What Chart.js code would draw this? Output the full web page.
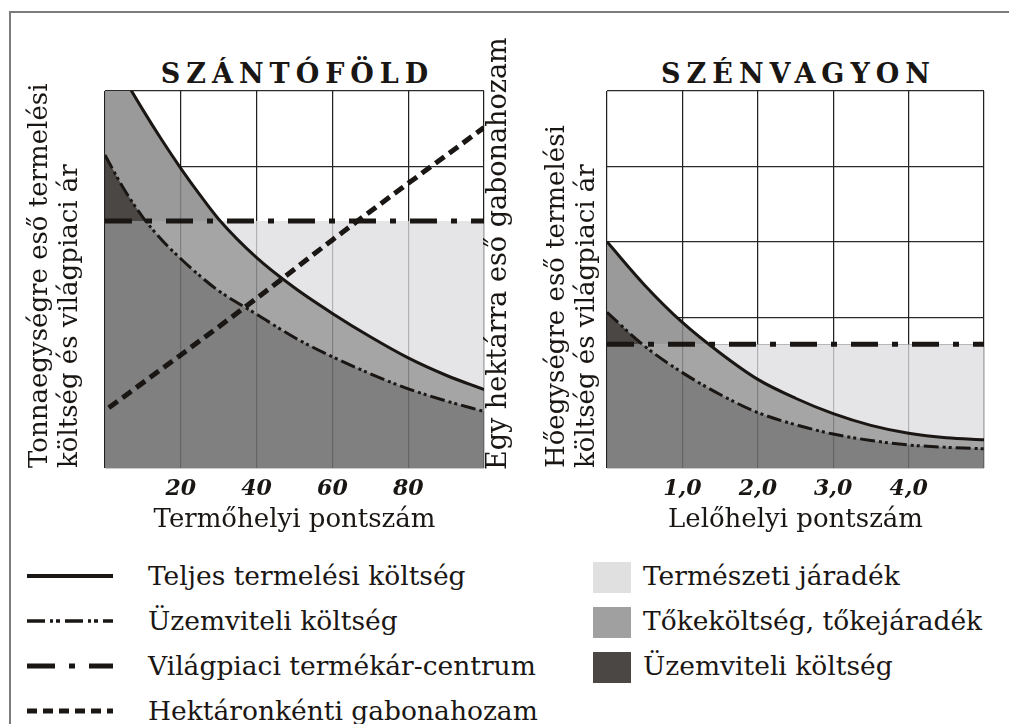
<!DOCTYPE html>
<html lang="hu">
<head>
<meta charset="utf-8">
<title>Szántóföld és szénvagyon</title>
<script src="https://cdn.jsdelivr.net/npm/chart.js@4.4.1/dist/chart.umd.min.js"></script>
<style>
    html, body { margin: 0; padding: 0; background: #fff; }
    body { position: relative; width: 1009px; height: 724px; overflow: hidden; font-family: 'DejaVu Serif', serif; color: #1a1614; }
    #frame { position: absolute; left: 9px; top: 11px; width: 1010px; height: 720px; border-left: 2px solid #7c7c7c; border-top: 2px solid #7c7c7c; }
    .panel-title { position: absolute; top: 58px; height: 32px; line-height: 32px; font-size: 27px; font-weight: bold; letter-spacing: 6px; text-indent: 6px; text-align: center; white-space: nowrap; }
    .box { position: absolute; top: 0; height: 540px; }
    #yieldLabel { position: absolute; left: 482px; top: 30px; width: 30px; height: 440px; line-height: 30px; font-size: 27px; writing-mode: vertical-rl; transform: rotate(180deg); white-space: nowrap; }
    .sample { position: absolute; left: 27px; }
    .lg-text { position: absolute; height: 30px; line-height: 30px; font-size: 26.5px; white-space: nowrap; }
    .swatch { position: absolute; left: 593px; width: 38px; height: 31px; }
</style>
</head>
<body>
<div id="frame"></div>

<div class="panel-title" style="left:105px; width:379px;">SZÁNTÓFÖLD</div>
<div class="panel-title" style="left:607px; width:377px;">SZÉNVAGYON</div>

<div class="box" style="left:0; width:540px;"><canvas id="fieldChart"></canvas></div>
<div class="box" style="left:530px; width:479px;"><canvas id="coalChart"></canvas></div>

<div id="yieldLabel">Egy hektárra eső gabonahozam</div>

<!-- jelmagyarázat -->
<svg class="sample" style="top:572px" width="86" height="8"><line x1="0" y1="4" x2="86" y2="4" stroke="#1a1614" stroke-width="4"/></svg>
<div class="lg-text" style="left:148px; top:561px;">Teljes termelési költség</div>
<svg class="sample" style="top:617px" width="86" height="8"><line x1="0" y1="4" x2="86" y2="4" stroke="#1a1614" stroke-width="3.5" stroke-dasharray="18 5 3 3 4 5"/></svg>
<div class="lg-text" style="left:148px; top:606px;">Üzemviteli költség</div>
<svg class="sample" style="top:662px" width="86" height="8"><line x1="0" y1="4" x2="86" y2="4" stroke="#1a1614" stroke-width="5" stroke-dasharray="28 14 6 14"/></svg>
<div class="lg-text" style="left:148px; top:651px;">Világpiaci termékár-centrum</div>
<svg class="sample" style="top:707px" width="86" height="8"><line x1="0" y1="4" x2="86" y2="4" stroke="#1a1614" stroke-width="5" stroke-dasharray="10 6"/></svg>
<div class="lg-text" style="left:148px; top:696px;">Hektáronkénti gabonahozam</div>

<div class="swatch" style="top:562px; background:#e0e0e0;"></div>
<div class="lg-text" style="left:643px; top:561px;">Természeti járadék</div>
<div class="swatch" style="top:607px; background:#a0a0a0;"></div>
<div class="lg-text" style="left:643px; top:606px;">Tőkeköltség, tőkejáradék</div>
<div class="swatch" style="top:652px; background:#4b4745;"></div>
<div class="lg-text" style="left:643px; top:651px;">Üzemviteli költség</div>

<script>
// SZÁNTÓFÖLD: termőhelyi pontszám és a görbék
const fieldPoints = [0, 5, 10, 15, 20, 25, 30, 40, 50, 60, 70, 80, 90, 100];
const fieldTotalCost = [113, 103.5, 95, 87, 79.5, 72.5, 66, 55.8, 47.8, 41, 34.8, 29.2, 24.6, 20.8];
const fieldOperatingCost = [83, 74, 66.5, 60.5, 55.5, 51, 47, 40.8, 34.6, 29.5, 25, 21, 17.8, 15];
const fieldWorldPrice = 65.5;
const yieldPoints = [1, 20, 40, 60, 80, 100];
const grainYield = [16, 30, 45, 60.5, 75.5, 90.3];
const fieldTickLabels = ['', '20', '40', '60', '80', ''];

// SZÉNVAGYON: lelőhelyi pontszám
const coalPoints = [0, 0.5, 1, 1.5, 2, 2.5, 3, 3.5, 4, 4.5, 5];
const coalTotalCost = [60, 48.5, 38.6, 30.5, 23.5, 18.5, 14.4, 11.3, 9.2, 8, 7.5];
const coalOperatingCost = [41.3, 32.3, 25.3, 19.5, 14.7, 11.5, 9, 7.3, 6.1, 5.5, 5.1];
const coalWorldPrice = 32.8;
const coalTickLabels = ['', '1,0', '2,0', '3,0', '4,0', ''];

const SERIF = "'DejaVu Serif', serif";
const INK = '#1a1614';
const GRID_COLOR = '#2a2a2a';
const LIGHT = '#e5e5e7';
const MID = '#a5a5a5';
const MID_UPPER = '#9a9a9a';
const BASE = '#808080';
const DARK = '#4b4745';

const OPERATING_DASH = [15, 4, 3, 3, 3, 4];
const PRICE_DASH = [27, 14, 6, 14];
const YIELD_DASH = [11, 6];

Chart.defaults.font.family = SERIF;
Chart.defaults.color = INK;

function pts(xs, ys) {
    return xs.map((x, i) => ({ x: x, y: ys[i] }));
}

function flat(xs, value) {
    return [{ x: xs[0], y: value }, { x: xs[xs.length - 1], y: value }];
}

function line(data, width, dash, axis) {
    return { data: data, borderColor: INK, borderWidth: width, borderDash: dash || [], fill: false, clip: 0, yAxisID: axis || 'y' };
}

function area(data, fill, color) {
    return { data: data, borderWidth: 0, borderColor: 'rgba(0,0,0,0)', backgroundColor: color, fill: fill, clip: 0 };
}

// the first dataset ends up on top, the last one at the bottom
function panelDatasets(xs, total, operating, price) {
    return [
        line(pts(xs, total), 3),
        line(pts(xs, operating), 3, OPERATING_DASH),
        line(flat(xs, price), 5, PRICE_DASH),
        area(pts(xs, operating), { target: { value: price }, above: DARK, below: 'rgba(0,0,0,0)' }),
        area(pts(xs, operating), 'origin', BASE),
        area(pts(xs, total), { target: { value: price }, above: MID_UPPER, below: LIGHT }),
        area(flat(xs, price), 'origin', MID)
    ];
}

function panelScales(xMax, step, tickLabels, xTitle, yTitle, yWidth, titlePad) {
    return {
        x: {
            type: 'linear', min: 0, max: xMax,
            border: { display: false },
            grid: { color: GRID_COLOR, lineWidth: 1.2, drawTicks: false },
            ticks: {
                stepSize: step, padding: 8, color: INK,
                font: { size: 22, style: 'italic', weight: 'bold' },
                callback: (v, i) => tickLabels[i]
            },
            title: { display: true, text: xTitle, color: INK, font: { size: 26, lineHeight: 1.2 }, padding: 0 },
            afterFit: s => { s.height = 68; }
        },
        xGrid: {
            type: 'linear', min: 0, max: xMax, position: 'bottom',
            border: { display: false },
            grid: { color: 'rgba(0,0,0,0.22)', lineWidth: 1.2, drawTicks: false, z: 1 },
            ticks: { display: false, stepSize: step },
            afterFit: s => { s.height = 0; }
        },
        y: {
            min: 0, max: 100,
            border: { display: false },
            grid: { color: GRID_COLOR, lineWidth: 1.2, drawTicks: false },
            ticks: { display: false, stepSize: 20 },
            title: {
                display: true, text: yTitle, align: 'start', color: INK,
                font: { size: 26, lineHeight: 1.17 }, padding: { top: titlePad, bottom: 0 }
            },
            afterFit: s => { s.width = yWidth; }
        }
    };
}

const BASE_OPTIONS = {
    responsive: true,
    maintainAspectRatio: false,
    animation: false,
    events: [],
    elements: {
        point: { radius: 0 },
        line: { cubicInterpolationMode: 'monotone', borderCapStyle: 'butt' }
    },
    plugins: {
        legend: { display: false },
        tooltip: { enabled: false }
    }
};

// Szántóföld
const fieldScales = panelScales(100, 20, fieldTickLabels, 'Termőhelyi pontszám',
    ['Tonnaegységre eső termelési', 'költség és világpiaci ár'], 105, 25);
fieldScales.y2 = {
    position: 'right', min: 0, max: 100,
    border: { display: false },
    grid: { display: false },
    ticks: { display: false },
    afterFit: s => { s.width = 56; }
};
const fieldData = panelDatasets(fieldPoints, fieldTotalCost, fieldOperatingCost, fieldWorldPrice);
fieldData.unshift(line(pts(yieldPoints, grainYield), 5, YIELD_DASH, 'y2'));

new Chart(document.getElementById('fieldChart'), {
    type: 'line',
    data: { datasets: fieldData },
    options: Object.assign({}, BASE_OPTIONS, {
        layout: { padding: { top: 91, bottom: 4, left: 0, right: 0 } },
        scales: fieldScales
    })
});

// Szénvagyon
new Chart(document.getElementById('coalChart'), {
    type: 'line',
    data: { datasets: panelDatasets(coalPoints, coalTotalCost, coalOperatingCost, coalWorldPrice) },
    options: Object.assign({}, BASE_OPTIONS, {
        layout: { padding: { top: 91, bottom: 4, left: 0, right: 25 } },
        scales: panelScales(5, 1, coalTickLabels, 'Lelőhelyi pontszám',
            ['Hőegységre eső termelési', 'költség és világpiaci ár'], 77, 12)
    })
});
</script>
</body>
</html>
